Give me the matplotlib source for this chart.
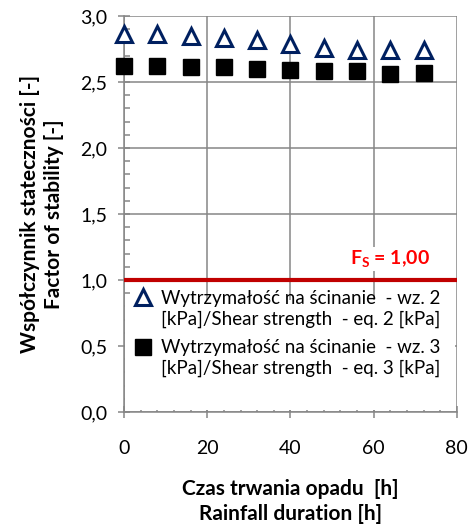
import numpy as np
import matplotlib.pyplot as plt
from matplotlib.patches import Rectangle
from matplotlib.ticker import MultipleLocator

plt.rcParams['font.family'] = ['Lato', 'DejaVu Sans']
plt.rcParams['mathtext.fontset'] = 'custom'
plt.rcParams['mathtext.bf'] = 'Lato:bold'
plt.rcParams['mathtext.rm'] = 'Lato'

# czas trwania opadu [h]
czas = [0, 8, 16, 24, 32, 40, 48, 56, 64, 72]
# wspolczynnik statecznosci - wz. 2
fs_wz2 = [2.86, 2.86, 2.85, 2.83, 2.82, 2.79, 2.76, 2.74, 2.74, 2.74]
# wspolczynnik statecznosci - wz. 3
fs_wz3 = [2.62, 2.62, 2.61, 2.61, 2.60, 2.59, 2.58, 2.58, 2.56, 2.565]
fs_graniczny = 1.00

label_wz2 = 'Wytrzymałość na ścinanie  - wz. 2\n[kPa]/Shear strength  - eq. 2 [kPa]'
label_wz3 = 'Wytrzymałość na ścinanie  - wz. 3\n[kPa]/Shear strength  - eq. 3 [kPa]'

styl_wz2 = dict(linestyle='none', marker='^', markersize=11, markerfacecolor='white',
                markeredgecolor='#002060', markeredgewidth=2.2)
styl_wz3 = dict(linestyle='none', marker='s', markersize=11,
                markerfacecolor='black', markeredgecolor='black')

fig = plt.figure(figsize=(4.7, 5.26), dpi=100)
ax = fig.add_axes([0.264, 0.2167, 0.708, 0.753])

ax.plot(czas, fs_wz2, zorder=5, clip_on=False, **styl_wz2)
ax.plot(czas, fs_wz3, zorder=5, clip_on=False, **styl_wz3)
ax.axhline(fs_graniczny, color='#C00000', linewidth=3, zorder=4)

ax.text(64, 1.08, r'$\mathbf{F_S}$ = 1,00', color='#FF0000', fontsize=14,
        fontweight='bold', ha='center', va='bottom', zorder=3,
        bbox=dict(facecolor='white', edgecolor='none', pad=1))

# legenda w bialym polu pod linia Fs
ax.add_patch(Rectangle((0.004, 0.004), 0.99, 0.28, transform=ax.transAxes,
                       facecolor='white', edgecolor='none', zorder=3))
ax.plot([0.057], [0.290], transform=ax.transAxes, zorder=6, clip_on=False, **styl_wz2)
ax.plot([0.057], [0.164], transform=ax.transAxes, zorder=6, clip_on=False, **styl_wz3)
ax.text(0.112, 0.261, label_wz2, transform=ax.transAxes, fontsize=13.5,
        va='center', ha='left', linespacing=1.25, zorder=6)
ax.text(0.112, 0.136, label_wz3, transform=ax.transAxes, fontsize=13.5,
        va='center', ha='left', linespacing=1.25, zorder=6)

ax.set_xlim(0, 80)
ax.set_ylim(0, 3)
ax.xaxis.set_major_locator(MultipleLocator(20))
ax.xaxis.set_minor_locator(MultipleLocator(4))
ax.yaxis.set_minor_locator(MultipleLocator(0.1))
ax.set_yticks(np.arange(0, 3.01, 0.5))
ax.set_yticklabels([f'{v:.1f}'.replace('.', ',') for v in np.arange(0, 3.01, 0.5)])

ax.grid(True, which='major', color='#868686', linewidth=1.1)
ax.set_axisbelow(True)
for side in ['top', 'right']:
    ax.spines[side].set_visible(False)
for side in ['left', 'bottom']:
    ax.spines[side].set_color('#868686')
    ax.spines[side].set_linewidth(1.1)

ax.tick_params(which='major', direction='inout', length=8, width=1.1,
               color='#868686', labelsize=14, pad=8)
ax.tick_params(which='minor', direction='in', length=4, width=1.1, color='#868686')
ax.tick_params(axis='x', pad=16)

ax.set_xlabel('Czas trwania opadu  [h]\nRainfall duration [h]', fontsize=15,
              fontweight='bold', labelpad=16, linespacing=1.3)
ax.set_ylabel('Współczynnik stateczności [-]\nFactor of stability [-]', fontsize=15,
              fontweight='bold', labelpad=12, linespacing=1.2)

fig.savefig('out.png', dpi=100)
